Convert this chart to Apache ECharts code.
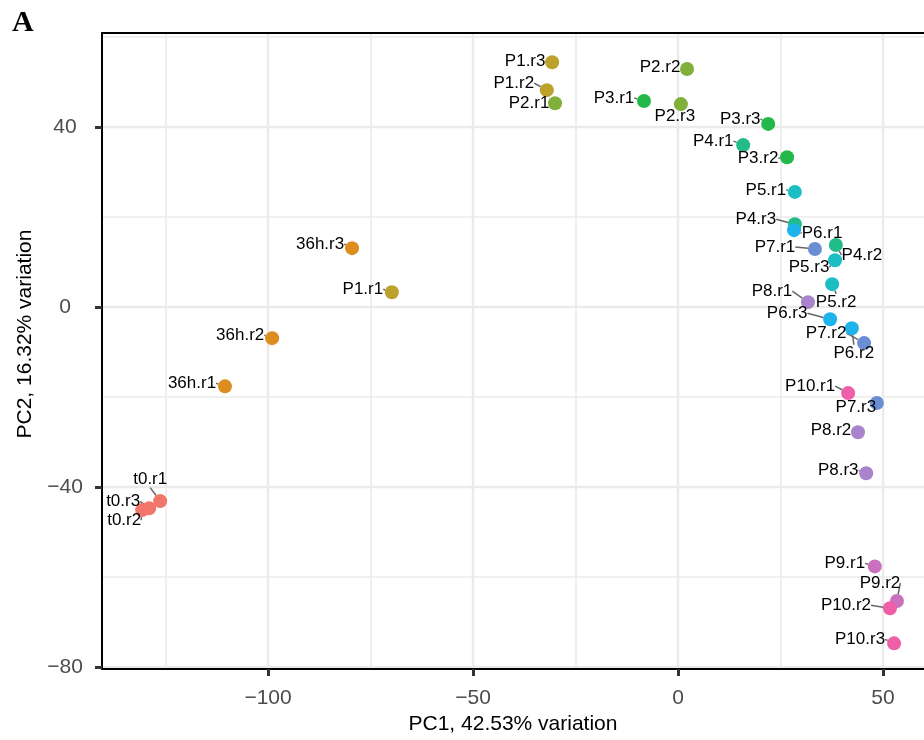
<!DOCTYPE html>
<html>
<head>
<meta charset="utf-8">
<script src="https://cdn.jsdelivr.net/npm/echarts@6/dist/echarts.min.js"></script>
<style>
    html, body { margin: 0; padding: 0; background: #fff; }
    #main { width: 924px; height: 740px; }
</style>
</head>
<body>
<div id="main"></div>
<script>
    // samples and their PCA coordinates
    var sampleNames = ['t0.r1', 't0.r2', 't0.r3', '36h.r1', '36h.r2', '36h.r3',
        'P1.r1', 'P1.r2', 'P1.r3', 'P2.r1', 'P2.r2', 'P2.r3',
        'P3.r1', 'P3.r2', 'P3.r3', 'P4.r1', 'P4.r2', 'P4.r3',
        'P5.r1', 'P5.r2', 'P5.r3', 'P6.r1', 'P6.r2', 'P6.r3',
        'P7.r1', 'P7.r2', 'P7.r3', 'P8.r1', 'P8.r2', 'P8.r3',
        'P9.r1', 'P9.r2', 'P10.r1', 'P10.r2', 'P10.r3'];
    var pc1 = [-126.3, -130.7, -129.0, -110.5, -99.0, -79.5,
        -69.8, -32.0, -30.7, -30.0, 2.2, 0.7,
        -8.3, 26.6, 22.0, 15.9, 38.5, 28.5,
        28.5, 37.6, 38.3, 28.3, 42.4, 37.1,
        33.4, 45.4, 48.5, 31.7, 43.9, 45.9,
        48.0, 53.4, 41.5, 51.7, 52.7];
    var pc2 = [-43.1, -45.1, -44.7, -17.6, -6.9, 13.1,
        3.3, 48.2, 54.4, 45.3, 52.9, 45.1,
        45.8, 33.3, 40.7, 36.0, 13.8, 18.4,
        25.6, 5.1, 10.4, 17.1, -4.7, -2.7,
        12.9, -8.0, -21.3, 1.1, -27.8, -36.9,
        -57.6, -65.3, -19.1, -66.9, -74.7];

    var groupNames = ['t0', '36h', 'P1', 'P2', 'P3', 'P4', 'P5', 'P6', 'P7', 'P8', 'P9', 'P10'];
    var groupColors = ['#F2756C', '#DD8C1E', '#BCA22A', '#7FB03A', '#23B84A', '#21BC8A',
        '#1ABEC3', '#1EB3EB', '#6A8ED3', '#A983CB', '#C970BE', '#EE5FA7'];

    var xTicks = [-100, -50, 0, 50];
    var yTicks = [-80, -40, 0, 40];
    var xMinor = [-125, -75, -25, 25];
    var yMinor = [-60, -20, 20, 60];

    // label shift in px from the point (like ggrepel placed them)
    var labelNudge = {
        't0.r1': [-10, -22], 't0.r2': [-18, 10], 't0.r3': [-26, -7],
        '36h.r1': [-33, -3], '36h.r2': [-32, -3], '36h.r3': [-32, -4],
        'P1.r1': [-29, -3], 'P1.r2': [-33, -7], 'P1.r3': [-27, -1],
        'P2.r1': [-26, 0], 'P2.r2': [-27, -2], 'P2.r3': [-6, 12],
        'P3.r1': [-30, -3], 'P3.r2': [-29, 1], 'P3.r3': [-28, -5],
        'P4.r1': [-30, -4], 'P4.r2': [26, 10], 'P4.r3': [-39, -5],
        'P5.r1': [-29, -2], 'P5.r2': [4, 18], 'P5.r3': [-26, 7],
        'P6.r1': [28, 3], 'P6.r2': [2, 25], 'P6.r3': [-43, -6],
        'P7.r1': [-40, -2], 'P7.r2': [-38, -10], 'P7.r3': [-21, 4],
        'P8.r1': [-36, -11], 'P8.r2': [-27, -2], 'P8.r3': [-28, -3],
        'P9.r1': [-30, -3], 'P9.r2': [-17, -18],
        'P10.r1': [-38, -7], 'P10.r2': [-44, -3], 'P10.r3': [-34, -4]
    };

    var FONT = '"Liberation Sans", Arial, Helvetica, sans-serif';

    function minus(v) {
        return v < 0 ? '\u2212' + Math.abs(v) : String(v);
    }

    var series = groupNames.map(function (g, gi) {
        var data = [];
        sampleNames.forEach(function (n, i) {
            if (n.split('.')[0] === g) {
                data.push({name: n, value: [pc1[i], pc2[i]]});
            }
        });
        return {
            type: 'scatter',
            name: g,
            data: data,
            symbolSize: 14,
            z: 3,
            itemStyle: {color: groupColors[gi], opacity: 1},
            label: {
                show: true,
                position: 'inside',
                formatter: '{b}',
                color: '#000',
                fontSize: 17,
                fontFamily: FONT
            },
            labelLine: {
                show: true,
                lineStyle: {color: '#666', width: 1.5}
            },
            labelLayout: function (p) {
                var d = labelNudge[data[p.dataIndex].name] || [-30, 0];
                return {dx: d[0], dy: d[1]};
            }
        };
    });

    // panel grid lines
    function gl(axis, v, w) {
        var o = {lineStyle: {color: '#ebebeb', width: w, type: 'solid'}};
        o[axis] = v;
        return o;
    }
    var gridLines = []
        .concat(xTicks.map(function (v) { return gl('xAxis', v, 2.4); }))
        .concat(xMinor.map(function (v) { return gl('xAxis', v, 1.6); }))
        .concat(yTicks.map(function (v) { return gl('yAxis', v, 2.4); }))
        .concat(yMinor.map(function (v) { return gl('yAxis', v, 1.6); }));

    series.push({
        type: 'scatter',
        data: [],
        silent: true,
        z: 0,
        markLine: {
            z: 0,
            silent: true,
            symbol: 'none',
            animation: false,
            label: {show: false},
            data: gridLines
        }
    });

    var myChart = echarts.init(document.getElementById('main'));
    var option = {
        animation: false,
        backgroundColor: '#fff',
        grid: {left: 102, right: 0, top: 33, bottom: 71},
        graphic: [{
            type: 'text',
            left: 12,
            top: 8,
            style: {text: 'A', font: 'bold 30px "Liberation Serif", "Times New Roman", serif', fill: '#000'}
        }],
        xAxis: [{
            type: 'value',
            min: -140.5,
            max: 60,
            position: 'bottom',
            z: 5,
            axisLine: {show: true, onZero: false, lineStyle: {color: '#000', width: 2}},
            axisTick: {show: true, customValues: xTicks, length: 7, lineStyle: {color: '#333', width: 3}},
            axisLabel: {customValues: xTicks, formatter: minus, color: '#4d4d4d', fontSize: 21, fontFamily: FONT, margin: 19},
            splitLine: {show: false},
            name: 'PC1, 42.53% variation',
            nameLocation: 'middle',
            nameGap: 42,
            nameTextStyle: {color: '#000', fontSize: 21, fontFamily: FONT}
        }, {
            type: 'value',
            min: -140.5,
            max: 60,
            position: 'top',
            z: 5,
            axisLine: {show: true, onZero: false, lineStyle: {color: '#000', width: 2}},
            axisTick: {show: false},
            axisLabel: {show: false},
            splitLine: {show: false}
        }],
        yAxis: {
            type: 'value',
            min: -80.4,
            max: 60.9,
            z: 5,
            axisLine: {show: true, onZero: false, lineStyle: {color: '#000', width: 2}},
            axisTick: {show: true, customValues: yTicks, length: 7, lineStyle: {color: '#333', width: 3}},
            axisLabel: {customValues: yTicks, formatter: minus, color: '#4d4d4d', fontSize: 21, fontFamily: FONT, margin: 37, align: 'center'},
            splitLine: {show: false},
            name: 'PC2, 16.32% variation',
            nameLocation: 'middle',
            nameGap: 66,
            nameTextStyle: {color: '#000', fontSize: 21, fontFamily: FONT, padding: [0, 0, 0, 34]}
        },
        series: series
    };
    myChart.setOption(option);
</script>
</body>
</html>
